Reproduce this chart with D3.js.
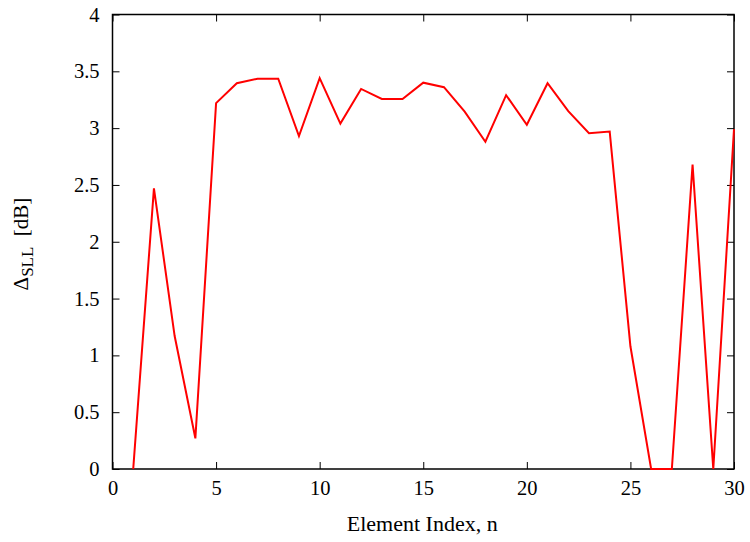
<!DOCTYPE html>
<html><head><meta charset="utf-8">
<script src="https://cdn.jsdelivr.net/npm/d3@7"></script>
<style>body{margin:0;background:#fff}svg{display:block}text{font-family:"Liberation Serif","DejaVu Serif",serif}</style>
</head><body><svg id="c" width="750" height="542"></svg>
<script>
const indices = d3.range(1, 31);
const deltaSLL = [0, 2.47, 1.17, 0.27, 3.22, 3.395, 3.435, 3.435, 2.93, 3.44,
  3.04, 3.345, 3.257, 3.257, 3.40, 3.36, 3.145, 2.88, 3.29, 3.03,
  3.395, 3.15, 2.955, 2.97, 1.08, 0, 0, 2.68, 0, 2.99];
const xTicks = [0, 5, 10, 15, 20, 25, 30];
const yTicks = [0, 0.5, 1, 1.5, 2, 2.5, 3, 3.5, 4];
const yTickLabels = ["0", "0.5", "1", "1.5", "2", "2.5", "3", "3.5", "4"];

const svg = d3.select("#c");
const L = 112.5, R = 734, T = 14.5, B = 469;
const x = d3.scaleLinear().domain([0, 30]).range([L, R]);
const y = d3.scaleLinear().domain([0, 4]).range([B, T]);
const tl = 7;
const FS = 20.5;

const g = svg.append("g");
g.append("rect").attr("x", L).attr("y", T).attr("width", R - L).attr("height", B - T)
  .attr("fill", "none").attr("stroke", "#000").attr("stroke-width", 1.5);

const xb = g.append("g").attr("transform", `translate(0,${B})`)
  .call(d3.axisBottom(x).tickValues(xTicks).tickSize(-tl).tickPadding(11).tickFormat(d3.format("d")));
const xt = g.append("g").attr("transform", `translate(0,${T})`)
  .call(d3.axisTop(x).tickValues(xTicks).tickSize(-tl).tickFormat(""));
const yl = g.append("g").attr("transform", `translate(${L},0)`)
  .call(d3.axisLeft(y).tickValues(yTicks).tickSize(-tl).tickPadding(13).tickFormat((d, i) => yTickLabels[i]));
const yr = g.append("g").attr("transform", `translate(${R},0)`)
  .call(d3.axisRight(y).tickValues(yTicks).tickSize(-tl).tickFormat(""));
[xb, xt, yl, yr].forEach(a => {
  a.select(".domain").remove();
  a.selectAll(".tick line").attr("stroke", "#000").attr("stroke-width", 1);
  a.selectAll("text").attr("font-size", FS).attr("fill", "#000")
    .style("font-family", '"Liberation Serif", serif');
});
xb.selectAll("text").attr("dy", "0.71em");

const line = d3.line().x((d, i) => x(indices[i])).y(d => y(d));
g.append("path").datum(deltaSLL).attr("d", line)
  .attr("fill", "none").attr("stroke", "#ff0000").attr("stroke-width", 2)
  .attr("stroke-linejoin", "miter");

svg.append("text").attr("x", (L + R) / 2 - 1).attr("y", 531).attr("text-anchor", "middle")
  .attr("font-size", 22).text("Element Index, n");

const yt = svg.append("text").attr("transform", "translate(28,244) rotate(-90)")
  .attr("text-anchor", "middle").attr("font-size", 21);
yt.append("tspan").text("Δ");
yt.append("tspan").attr("font-size", 17).attr("dy", 5).text("SLL");
yt.append("tspan").attr("dy", -5).text("\u00a0\u00a0[dB]");
</script></body></html>
